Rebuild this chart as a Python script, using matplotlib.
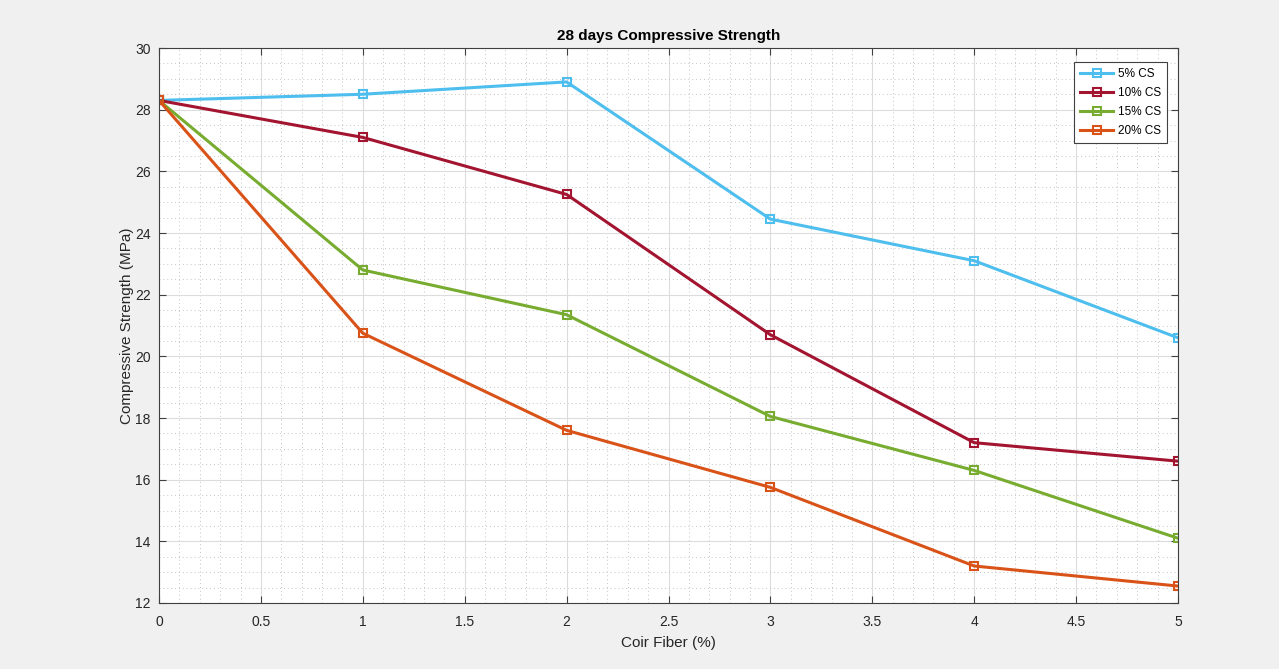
import numpy as np
import matplotlib.pyplot as plt
from matplotlib.ticker import MultipleLocator

plt.rcParams['font.family'] = ['Liberation Sans', 'DejaVu Sans']

fiber = [0, 1, 2, 3, 4, 5]
cs5 = [28.3, 28.5, 28.9, 24.45, 23.1, 20.6]
cs10 = [28.3, 27.1, 25.25, 20.7, 17.2, 16.6]
cs15 = [28.3, 22.8, 21.35, 18.05, 16.3, 14.1]
cs20 = [28.3, 20.75, 17.6, 15.75, 13.2, 12.55]
labels = ['5% CS', '10% CS', '15% CS', '20% CS']
colors = ['#4DBEEE', '#A2142F', '#77AC30', '#D95319']

fig = plt.figure(figsize=(12.79, 6.69), dpi=100, facecolor='#f0f0f0')
ax = fig.add_axes([159/1279, 1 - 603/669, (1178-159)/1279, (603-48)/669])
ax.set_facecolor('white')

for ys, lab, c in zip([cs5, cs10, cs15, cs20], labels, colors):
    ax.plot(fiber, ys, '-s', color=c, lw=2.2, ms=6, mfc='none', mew=1.5, label=lab)

ax.set_xlim(0, 5)
ax.set_ylim(12, 30)
ax.xaxis.set_major_locator(MultipleLocator(0.5))
ax.yaxis.set_major_locator(MultipleLocator(2))
ax.xaxis.set_minor_locator(MultipleLocator(0.1))
ax.yaxis.set_minor_locator(MultipleLocator(0.5))
ax.grid(which='major', color='#dcdcdc', lw=0.8)
ax.grid(which='minor', color='#c4c4c4', lw=0.7, ls=(0, (1, 3)))
ax.set_axisbelow(True)
ax.tick_params(which='major', direction='in', top=True, right=True, length=5,
               color='#404040', labelsize=10, labelcolor='#262626')
ax.tick_params(axis='x', which='major', pad=9)
ax.tick_params(axis='y', which='major', pad=6)
ax.tick_params(which='minor', length=0)
ax.set_xticks([0, 0.5, 1, 1.5, 2, 2.5, 3, 3.5, 4, 4.5, 5])
ax.set_xticklabels(['0', '0.5', '1', '1.5', '2', '2.5', '3', '3.5', '4', '4.5', '5'])
for s in ax.spines.values():
    s.set_color('#404040')
    s.set_linewidth(0.8)

ax.set_xlabel('Coir Fiber (%)', fontsize=11, color='#262626', labelpad=5)
ax.set_ylabel('Compressive Strength (MPa)', fontsize=11, color='#262626', labelpad=1)
ax.set_title('28 days Compressive Strength', fontsize=11, fontweight='bold', color='black')

leg = ax.legend(loc='upper right', fontsize=8.5, fancybox=False, framealpha=1,
                edgecolor='#404040', handlelength=2.8, handletextpad=0.4,
                borderpad=0.5, labelspacing=0.6, borderaxespad=0,
                bbox_to_anchor=(0.989, 0.975))
leg.get_frame().set_linewidth(0.8)

fig.savefig('out.png', dpi=100, facecolor=fig.get_facecolor())
